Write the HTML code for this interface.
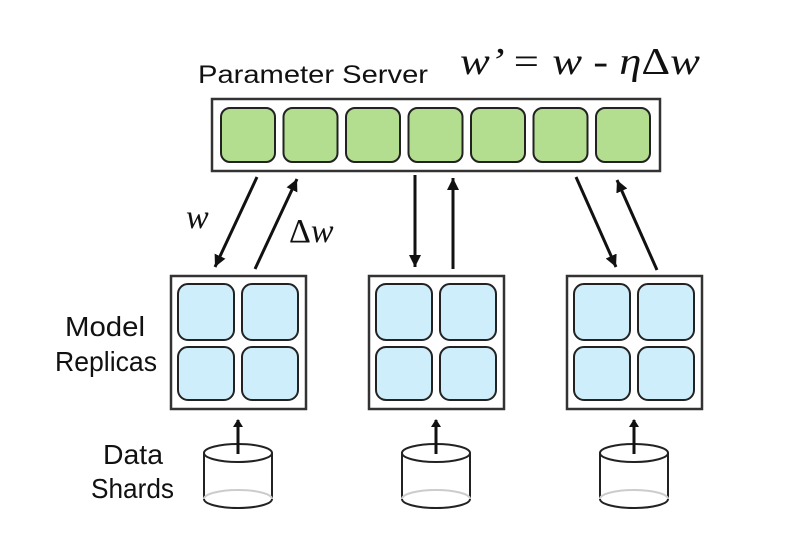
<!DOCTYPE html>
<html><head><style>body{margin:0;background:#fff}</style></head><body>
<svg width="786" height="550" xmlns="http://www.w3.org/2000/svg">
<defs><marker id="a" markerWidth="8" markerHeight="10" refX="7" refY="5" orient="auto" markerUnits="userSpaceOnUse" viewBox="0 0 8 10"><path d="M0,0 L8,5 L0,10z" fill="#111"/></marker>
<marker id="b" markerWidth="12" markerHeight="12" refX="10" refY="5" orient="auto" markerUnits="userSpaceOnUse" viewBox="0 0 10 10"><path d="M0,0 L10,5 L0,10z" fill="#111"/></marker></defs>
<g font-family="Liberation Sans, sans-serif" fill="#111">
<text x="198" y="83" font-size="25" textLength="230" lengthAdjust="spacingAndGlyphs">Parameter Server</text>
<text x="65" y="336" font-size="28" textLength="80" lengthAdjust="spacingAndGlyphs">Model</text>
<text x="55" y="371" font-size="28" textLength="102" lengthAdjust="spacingAndGlyphs">Replicas</text>
<text x="103" y="464" font-size="28" textLength="60" lengthAdjust="spacingAndGlyphs">Data</text>
<text x="91" y="498" font-size="28" textLength="83" lengthAdjust="spacingAndGlyphs">Shards</text>
</g>
<g font-family="Liberation Serif, serif" fill="#111">
<text x="460" y="74" font-size="38" font-style="italic" textLength="240" lengthAdjust="spacingAndGlyphs">w’ = w - η<tspan font-style="normal">Δ</tspan>w</text>
<text x="186" y="228" font-size="34" font-style="italic">w</text>
<text x="289" y="242" font-size="34"><tspan>Δ</tspan><tspan font-style="italic">w</tspan></text>
</g>
<rect x="212" y="99" width="448" height="72" fill="#fff" stroke="#333" stroke-width="2.5"/>
<g fill="#b3dd8f" stroke="#222" stroke-width="2">
<rect x="221" y="108" width="54" height="54" rx="9"/><rect x="283.5" y="108" width="54" height="54" rx="9"/>
<rect x="346" y="108" width="54" height="54" rx="9"/><rect x="408.5" y="108" width="54" height="54" rx="9"/>
<rect x="471" y="108" width="54" height="54" rx="9"/><rect x="533.5" y="108" width="54" height="54" rx="9"/>
<rect x="596" y="108" width="54" height="54" rx="9"/></g>
<g id="rep">
<rect x="171" y="276" width="135" height="133" fill="#fff" stroke="#333" stroke-width="2.5"/>
<g fill="#cdeefa" stroke="#222" stroke-width="2">
<rect x="178" y="284" width="56" height="56" rx="10"/><rect x="242" y="284" width="56" height="56" rx="10"/>
<rect x="178" y="347" width="56" height="53" rx="10"/><rect x="242" y="347" width="56" height="53" rx="10"/></g>
<path d="M204,453 V499 A34,9 0 0 0 272,499 V453" fill="#fff" stroke="#222" stroke-width="2"/>
<path d="M204,499 A34,9 0 0 1 272,499" fill="none" stroke="#ccc" stroke-width="2"/>
<ellipse cx="238" cy="453" rx="34" ry="9" fill="#fff" stroke="#222" stroke-width="2"/>
<line x1="238" y1="454" x2="238" y2="420" stroke="#111" stroke-width="3" marker-end="url(#a)"/>
</g>
<use href="#rep" x="198"/><use href="#rep" x="396"/>
<g stroke="#111" stroke-width="3" marker-end="url(#b)">
<line x1="257" y1="177" x2="215" y2="267"/><line x1="255" y1="269" x2="297" y2="179"/>
<line x1="415" y1="175" x2="415" y2="267"/><line x1="453" y1="269" x2="453" y2="178"/>
<line x1="576" y1="177" x2="616" y2="267"/><line x1="657" y1="270" x2="617" y2="180"/>
</g>
</svg>
</body></html>
